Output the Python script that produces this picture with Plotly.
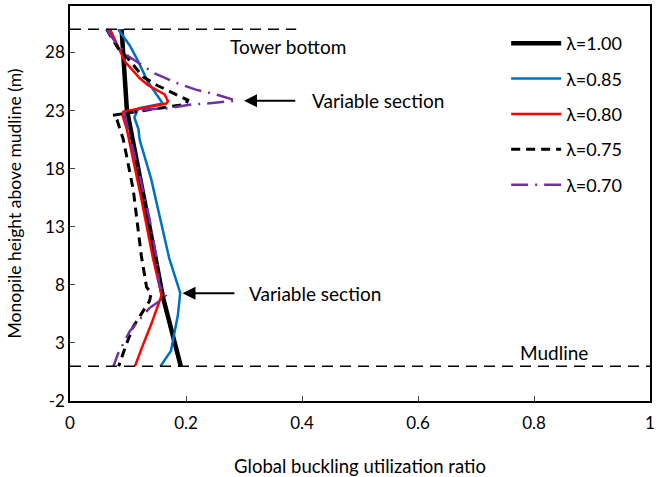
import plotly.graph_objects as go

# Global buckling utilization ratio along the monopile for each thickness ratio
h_100 = [30.0, 25.3, 23.1, 9.4, 7.0, 1.0]
u_100 = [0.089, 0.095, 0.098, 0.151, 0.160, 0.191]

h_085 = [30.0, 28.6, 27.5, 25.5, 23.6, 23.2, 22.4, 21.4, 20.5, 17.1, 10.3, 7.3, 5.4, 2.3, 1.0]
u_085 = [0.083, 0.103, 0.115, 0.134, 0.160, 0.118, 0.111, 0.118, 0.120, 0.140, 0.171, 0.190, 0.186, 0.174, 0.156]

h_080 = [30.0, 27.2, 25.8, 25.2, 24.4, 23.8, 23.6, 22.9, 22.7, 21.4, 15.4, 10.3, 7.1, 4.6, 2.85, 1.0]
u_080 = [0.069, 0.095, 0.120, 0.134, 0.163, 0.169, 0.166, 0.092, 0.090, 0.098, 0.123, 0.143, 0.158, 0.140, 0.126, 0.112]

h_075 = [30.0, 28.35, 27.6, 25.9, 25.2, 24.5, 23.9, 23.55, 22.6, 22.2, 20.5, 16.2, 10.5, 7.8, 7.3, 6.6, 5.7, 4.4, 2.6, 1.0]
u_075 = [0.063, 0.083, 0.098, 0.126, 0.149, 0.177, 0.203, 0.200, 0.074, 0.081, 0.092, 0.109, 0.123, 0.132, 0.140, 0.137, 0.126, 0.109, 0.095, 0.084]

h_070 = [30.0, 28.9, 27.7, 26.2, 25.4, 24.8, 24.3, 23.85, 23.65, 23.5, 23.2, 23.1, 22.8, 21.4, 17.4, 13.7, 10.3, 8.0, 7.1, 6.7, 6.0, 4.0, 2.1, 1.0]
u_070 = [0.063, 0.078, 0.100, 0.146, 0.183, 0.217, 0.258, 0.287, 0.245, 0.206, 0.171, 0.132, 0.094, 0.100, 0.120, 0.137, 0.149, 0.154, 0.165, 0.157, 0.137, 0.103, 0.083, 0.075]

# Axis ticks
y_ticks = [-2, 3, 8, 13, 18, 23, 28]
y_tick_labels = ["-2", "3", "8", "13", "18", "23", "28"]
x_ticks = [0, 0.2, 0.4, 0.6, 0.8, 1]
x_tick_labels = ["0", "0.2", "0.4", "0.6", "0.8", "1"]

series = [
    ("λ=1.00", u_100, h_100, dict(color="black", width=4.5, dash="solid")),
    ("λ=0.85", u_085, h_085, dict(color="#0070C0", width=2.5, dash="solid")),
    ("λ=0.80", u_080, h_080, dict(color="#FF0000", width=2.5, dash="solid")),
    ("λ=0.75", u_075, h_075, dict(color="black", width=3, dash="9px,6px")),
    ("λ=0.70", u_070, h_070, dict(color="#7030A0", width=2.5, dash="17px,7px,2px,7px")),
]

# Reference levels
tower_bottom = 30.0
mudline = 1.0
upper_section = 23.85
lower_section = 7.27

FONT = "Lato"

fig = go.Figure()
for name, u, h, line in series:
    fig.add_trace(go.Scatter(x=u, y=h, mode="lines", name=name, line=line,
                             legendgroup=name))

ref_line = dict(color="black", width=1.5, dash="11px,7px")
fig.add_shape(type="line", xref="x", yref="y", x0=0, x1=0.39,
              y0=tower_bottom, y1=tower_bottom, line=ref_line)
fig.add_shape(type="line", xref="x", yref="y", x0=0, x1=1,
              y0=mudline, y1=mudline, line=ref_line)

txt = dict(family=FONT, size=19, color="black")
fig.add_annotation(x=0.272, y=28.5, text="Tower bottom", showarrow=False,
                   xanchor="left", yanchor="middle", font=txt)
fig.add_annotation(x=0.772, y=2.2, text="Mudline", showarrow=False,
                   xanchor="left", yanchor="middle", font=txt)

for head_x, tail_x, text_x, yv in [(0.300, 0.391, 0.414, upper_section),
                                   (0.194, 0.286, 0.305, lower_section)]:
    fig.add_annotation(x=head_x, y=yv, ax=tail_x, ay=yv, axref="x", ayref="y",
                       text="", showarrow=True, arrowhead=2, arrowsize=1.3,
                       arrowwidth=2, arrowcolor="black")
    fig.add_annotation(x=text_x, y=yv, text="Variable section", showarrow=False,
                       xanchor="left", yanchor="middle", font=txt)

fig.update_layout(
    width=658, height=477,
    margin=dict(l=70, r=3, t=6, b=74),
    paper_bgcolor="white", plot_bgcolor="white",
    font=dict(family=FONT, size=16, color="black"),
    showlegend=True,
    legend=dict(x=0.752, y=0.952, xanchor="left", yanchor="top",
                bgcolor="rgba(0,0,0,0)", font=dict(family=FONT, size=18),
                tracegroupgap=9, itemwidth=50),
    xaxis=dict(range=[0, 1], tickvals=x_ticks, ticktext=x_tick_labels,
               ticks="inside", ticklen=5,
               showgrid=False, zeroline=False, showline=True, linecolor="black",
               linewidth=1.5, mirror=True, ticklabelstandoff=6,
               title=dict(text="Global buckling utilization ratio", standoff=28,
                          font=dict(family=FONT, size=18.5)),
               tickfont=dict(family=FONT, size=17)),
    yaxis=dict(range=[-2, 32], tickvals=y_ticks, ticktext=y_tick_labels,
               ticks="inside", ticklen=5,
               showgrid=False, zeroline=False, showline=True, linecolor="black",
               linewidth=1.5, mirror=True,
               title=dict(text="Monopile height above mudline (m)", standoff=19,
                          font=dict(family=FONT, size=17.5)),
               tickfont=dict(family=FONT, size=17)),
)

fig.write_html("out.html")
